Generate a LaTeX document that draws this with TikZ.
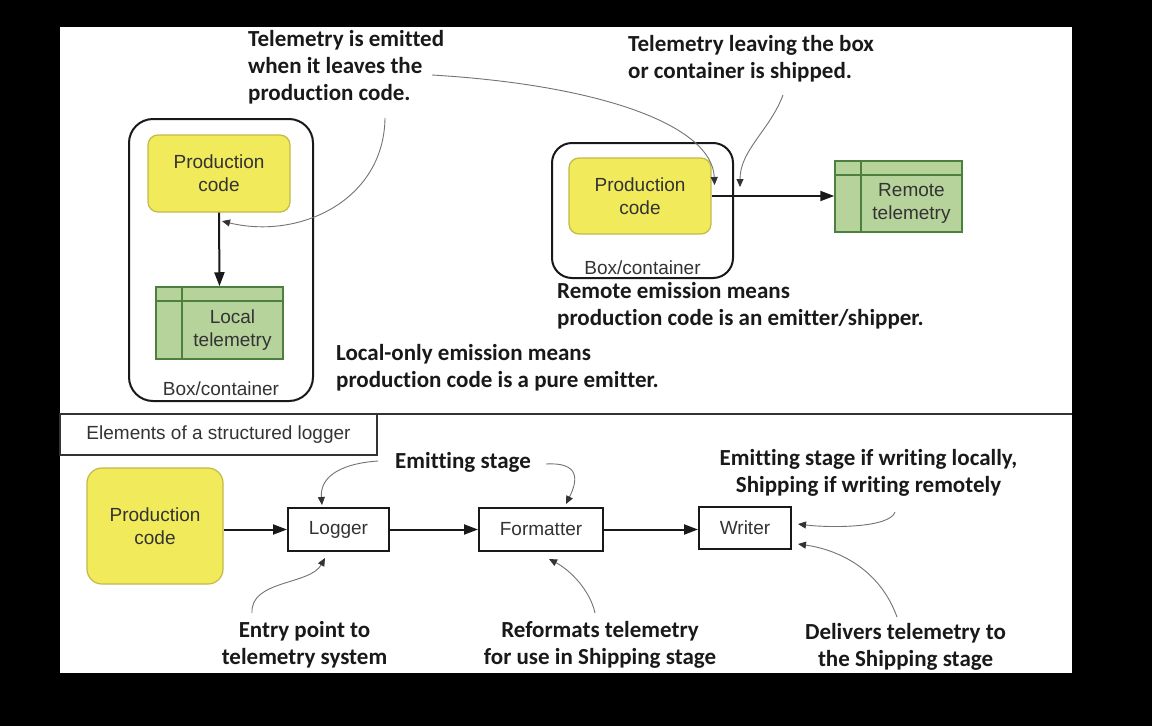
\documentclass[tikz,border=0pt]{standalone}
\usepackage{fontspec}
\setmainfont{Liberation Sans}
\newfontfamily\notefont[Ligatures={NoCommon}]{Carlito}
\usepackage{tikz}
\usetikzlibrary{arrows.meta,positioning}

\definecolor{prodfill}{HTML}{F1EA5B}
\definecolor{prodedge}{HTML}{C2BA48}
\definecolor{telefill}{HTML}{B7D39C}
\definecolor{teledge}{HTML}{4D7F3F}

\begin{document}
\begin{tikzpicture}[x=1pt,y=-1pt,
  every node/.style={font=\fontsize{19}{23}\selectfont, text=black!80, inner sep=0pt},
  prodcode/.style={draw=prodedge, fill=prodfill, line width=1.2pt, rounded corners=10pt, align=center},
  tablebox/.style={draw=teledge, fill=telefill, line width=1.5pt,
    minimum width=127pt, minimum height=72pt,
    path picture={
      \draw[teledge, line width=1.5pt] ([yshift=-14pt]path picture bounding box.north west) -- ([yshift=-14pt]path picture bounding box.north east);
      \draw[teledge, line width=1.5pt] ([xshift=26pt]path picture bounding box.north west) -- ([xshift=26pt]path picture bounding box.south west);}},
  celltext/.style={align=center},
  container/.style={draw=black!90, line width=2pt, rounded corners=24pt},
  stagebox/.style={draw=black!90, line width=2pt, minimum height=43pt},
  note/.style={font=\notefont\bfseries\fontsize{23}{27}\selectfont, text=black!90},
  flow/.style={-{Triangle[length=14pt,width=10pt]}, line width=2pt, black!90},
  callout/.style={-{Triangle[length=8pt,width=7pt,color=black!80]}, line width=0.9pt, draw=black!55}]

\useasboundingbox (0,0) rectangle (1152,726);
\fill[black] (0,0) rectangle (1152,726);
\fill[white] (60,27) rectangle (1072,673);

% local-only emission
\node (boxL) [container, minimum width=184pt, minimum height=282pt] at (221,260) {};
\node (boxLlabel) at ([yshift=13pt]boxL.south) {Box/container};
\node (prodL) [prodcode, minimum width=142pt, minimum height=77pt] at (219,173.5) {Production\\code};
\node (localT) [tablebox] at (219.5,323) {};
\node (localTtext) [celltext] at ([xshift=13pt,yshift=-7pt]localT.center) {Local\\telemetry};
\draw [flow] (prodL.south) -- (localT.north);

% remote emission
\node (boxR) [container, minimum width=181pt, minimum height=135pt, rounded corners=20pt] at (642.5,210.5) {};
\node (boxRlabel) at ([yshift=11pt]boxR.south) {Box/container};
\node (prodR) [prodcode, minimum width=142pt, minimum height=76pt] at (640,196) {Production\\code};
\node (remoteT) [tablebox, minimum height=71pt] at (898.5,196.5) {};
\node (remoteTtext) [celltext] at ([xshift=13pt,yshift=-7pt]remoteT.center) {Remote\\telemetry};
\draw [flow] (prodR.east) -- (remoteT.west |- prodR.east);

% notes, top half
\node (noteEmit) [note, anchor=west, align=left] at (248,67) {Telemetry is emitted\\when it leaves the\\production code.};
\node (noteShip) [note, anchor=west, align=left] at (628,59) {Telemetry leaving the box\\or container is shipped.};
\node (noteRemote) [note, anchor=west, align=left] at (557,306) {Remote emission means\\production code is an emitter/shipper.};
\node (noteLocal) [note, anchor=west, align=left] at (336,368) {Local-only emission means\\production code is a pure emitter.};

\coordinate (emitDown) at (385,118);
\coordinate (emitRight) at (432,75);
\coordinate (shipDown) at (783,95);
\draw [callout] (emitDown) .. controls (384,200) and (300,240) .. ([xshift=3pt,yshift=-8.5pt]prodL.south);
\draw [callout] (emitRight) .. controls (600,85) and (712,125) .. ([xshift=3pt,yshift=11pt]prodR.east);
\draw [callout] (shipDown) .. controls (770,130) and (740,150) .. ([xshift=6pt,yshift=23.5pt]boxR.east);

% divider
\draw [black!80, line width=1.5pt] (60,414) -- (1072,414);
\node (elemBox) [draw=black!80, line width=1.5pt, minimum width=317pt, minimum height=41pt] at (218.5,434.5) {Elements of a structured logger};

% structured logger
\node (prodB) [prodcode, rounded corners=15pt, minimum width=136pt, minimum height=116pt] at (155,526) {Production\\code};
\node (logger) [stagebox, minimum width=101pt] at (338.5,529.5) {Logger};
\node (formatter) [stagebox, minimum width=124pt] at (541,529.5) {Formatter};
\node (writer) [stagebox, minimum width=92pt, minimum height=42pt] at (745,528) {Writer};

\draw [flow] (prodB.east |- logger.west) -- (logger.west);
\draw [flow] (logger.east) -- (formatter.west);
\draw [flow] (formatter.east) -- (writer.west |- formatter.east);

% notes, bottom half
\node (noteStage) [note] at (463,462) {Emitting stage};
\node (noteWriter) [note, align=center] at (868.5,473) {Emitting stage if writing locally,\\Shipping if writing remotely};
\node (noteEntry) [note, align=center] at (304.5,644.5) {Entry point to\\telemetry system};
\node (noteReformat) [note, align=center] at (600,644.5) {Reformats telemetry\\for use in Shipping stage};
\node (noteDeliver) [note, align=center] at (905.5,647) {Delivers telemetry to\\the Shipping stage};

\coordinate (stageLeft) at (378,461);
\coordinate (stageRight) at (546,464);
\coordinate (entryUp) at (252,613);
\coordinate (reformatUp) at (595,613);
\coordinate (writerLeft) at (895,512);
\coordinate (deliverUp) at (897,617);
\draw [callout] (stageLeft) .. controls (335,464) and (320,480) .. ([xshift=-16.5pt,yshift=2pt]logger.north);
\draw [callout] (stageRight) .. controls (580,462) and (578,480) .. ([xshift=25pt,yshift=3pt]formatter.north);
\draw [callout] (entryUp) .. controls (250,580) and (310,585) .. ([xshift=-13.5pt,yshift=-6pt]logger.south);
\draw [callout] (reformatUp) .. controls (590,590) and (570,570) .. ([xshift=8pt,yshift=-7pt]formatter.south);
\draw [callout] (writerLeft) .. controls (890,528) and (830,528) .. ([xshift=6pt,yshift=4pt]writer.east);
\draw [callout] (deliverUp) .. controls (880,570) and (840,550) .. ([xshift=6pt,yshift=-16pt]writer.east);

\end{tikzpicture}
\end{document}
